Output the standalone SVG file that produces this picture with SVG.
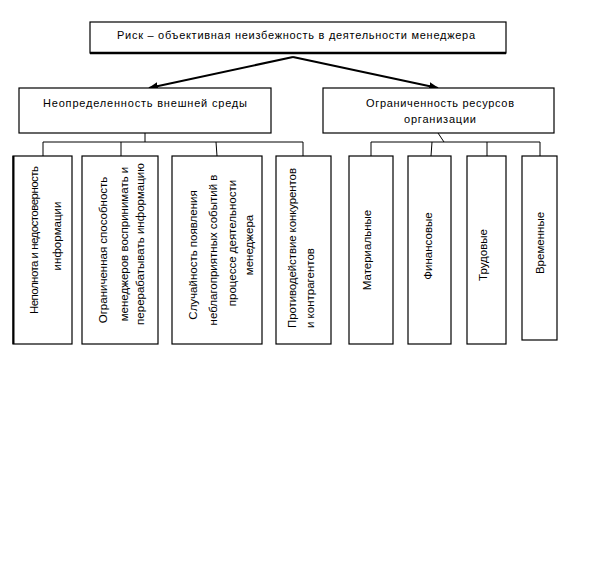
<svg xmlns="http://www.w3.org/2000/svg" width="589" height="574" viewBox="0 0 589 574">
<style>
.box{fill:#fff;stroke:#000;stroke-width:1.2}
.t{font-family:"Liberation Sans",Arial,sans-serif;font-size:11px;fill:#000}
.v{font-size:11.5px}
.c{text-anchor:middle}
.ln{fill:none;stroke:#000;stroke-width:1}
.ar{fill:none;stroke:#000;stroke-width:2}
</style>
<defs>
<marker id="ah" viewBox="0 0 10 10" refX="9" refY="5" markerWidth="5" markerHeight="5" orient="auto" markerUnits="strokeWidth">
<path d="M0,1 L10,5 L0,9 Z" fill="#000"/>
</marker>
</defs>
<rect width="589" height="574" fill="#fff"/>
<g id="connectors">
<line class="ar" x1="293" y1="57" x2="149" y2="88" marker-end="url(#ah)"/>
<line class="ar" x1="293" y1="57" x2="438" y2="88" marker-end="url(#ah)"/>
<path class="ln" d="M145,133 V142 M43,142 H303 M43,142 V156 M121,142 V156 M216,142 L217,156 M303,142 V156"/>
<path class="ln" d="M438,133 L444,142 M371,142 H540 M371,142 V156 M432,142 L431,156 M487,142 V156 M540,142 V156"/>
</g>
<g id="root">
<rect class="box" x="90" y="22" width="416" height="31"/>
<line x1="90" y1="53" x2="506" y2="53" stroke="#000" stroke-width="2.5"/>
<text class="t c" x="296" y="39" textLength="358">Риск – объективная неизбежность в деятельности менеджера</text>
</g>
<g id="env">
<rect class="box" x="19" y="88" width="252" height="45"/>
<text class="t c" x="145" y="107" textLength="204">Неопределенность внешней среды</text>
</g>
<g id="res">
<rect class="box" x="323" y="88" width="231" height="45"/>
<text class="t c" x="440" y="107" textLength="148">Ограниченность ресурсов</text>
<text class="t c" x="440" y="123" textLength="72">организации</text>
</g>
<g id="n1">
<rect class="box" x="13" y="156" width="59" height="188"/>
<line x1="13.5" y1="156" x2="13.5" y2="344" stroke="#000" stroke-width="2"/>
<text class="t v c" transform="translate(38,240) rotate(-90)" textLength="148">Неполнота и недостоверность</text>
<text class="t v c" transform="translate(61,236) rotate(-90)">информации</text>
</g>
<g id="n2">
<rect class="box" x="82" y="156" width="76" height="188"/>
<text class="t v c" transform="translate(107,250) rotate(-90)">Ограниченная способность</text>
<text class="t v c" transform="translate(128,244) rotate(-90)">менеджеров воспринимать и</text>
<text class="t v c" transform="translate(144,244) rotate(-90)">перерабатывать информацию</text>
</g>
<g id="n3">
<rect class="box" x="172" y="156" width="90" height="188"/>
<text class="t v c" transform="translate(197,255) rotate(-90)">Случайность появления</text>
<text class="t v c" transform="translate(217,250) rotate(-90)">неблагоприятных событий в</text>
<text class="t v c" transform="translate(236,243) rotate(-90)">процессе деятельности</text>
<text class="t v c" transform="translate(253,245) rotate(-90)">менеджера</text>
</g>
<g id="n4">
<rect class="box" x="276" y="156" width="55" height="188"/>
<text class="t v" transform="translate(296,328) rotate(-90)" textLength="160">Противодействие  конкурентов</text>
<text class="t v" transform="translate(314,328) rotate(-90)">и контрагентов</text>
</g>
<g id="n5">
<rect class="box" x="349" y="156" width="44" height="188"/>
<text class="t v c" transform="translate(371,250) rotate(-90)">Материальные</text>
</g>
<g id="n6">
<rect class="box" x="408" y="156" width="43" height="188"/>
<text class="t v c" transform="translate(432,246) rotate(-90)">Финансовые</text>
</g>
<g id="n7">
<rect class="box" x="467" y="156" width="39" height="188"/>
<text class="t v c" transform="translate(487,255) rotate(-90)">Трудовые</text>
</g>
<g id="n8">
<rect class="box" x="522" y="156" width="35" height="184"/>
<text class="t v c" transform="translate(544,243) rotate(-90)">Временные</text>
</g>
</svg>
